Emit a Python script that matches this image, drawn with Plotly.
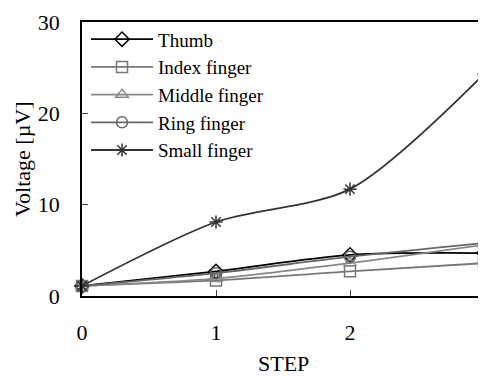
import plotly.graph_objects as go

steps = [0, 1, 2, 3]
thumb = [1.1, 2.7, 4.5, 4.7]
index_f = [1.1, 1.7, 2.7, 3.6]
middle_f = [1.1, 1.9, 3.6, 5.6]
ring_f = [1.1, 2.5, 4.3, 5.8]
small_f = [1.1, 8.1, 11.7, 24.3]

series = [
    ("Thumb", thumb, "#000000", "diamond-open"),
    ("Index finger", index_f, "#777777", "square-open"),
    ("Middle finger", middle_f, "#888888", "triangle-up-open"),
    ("Ring finger", ring_f, "#666666", "circle-open"),
    ("Small finger", small_f, "#333333", "asterisk-open"),
]

FONT = "Liberation Serif"

fig = go.Figure()
for name, vals, col, sym in series:
    fig.add_trace(go.Scatter(
        x=steps, y=vals, name=name, mode="lines+markers",
        line=dict(color=col, width=1.8, shape="spline", smoothing=0.8),
        marker=dict(symbol=sym, size=11, color=col, line=dict(width=1.5, color=col)),
        cliponaxis=False,
    ))

fig.update_layout(
    width=478, height=368,
    margin=dict(l=74, r=2, t=14, b=80, autoexpand=False),
    paper_bgcolor="white", plot_bgcolor="white",
    font=dict(family=FONT, size=22, color="black"),
    showlegend=True,
    legend=dict(x=0.01, y=1.006, xanchor="left", yanchor="top",
                bgcolor="rgba(0,0,0,0)", font=dict(size=19, family=FONT),
                itemwidth=62, tracegroupgap=0),
    xaxis=dict(range=[0, 3], tickvals=steps, ticks="inside", ticklen=6,
               showline=True, linecolor="black", linewidth=1.5, mirror=True,
               showgrid=False, zeroline=False, ticklabelstandoff=16,
               ticklabeloverflow="allow",
               automargin=False, tickfont=dict(size=22, family=FONT)),
    yaxis=dict(range=[0, 30], tickvals=[0, 10, 20, 30], ticks="inside", ticklen=6,
               showline=True, linecolor="black", linewidth=1.5, mirror=True,
               showgrid=False, zeroline=False, ticklabelstandoff=16,
               automargin=False, tickfont=dict(size=22, family=FONT)),
    annotations=[
        dict(text="Voltage [µV]", textangle=-90, xref="paper", yref="paper",
             x=0, y=0.5, xshift=-60, xanchor="center", yanchor="middle",
             showarrow=False, font=dict(size=22, family=FONT)),
        dict(text="STEP", xref="paper", yref="paper", x=0.5, y=0,
             yshift=-67, xanchor="center", yanchor="middle",
             showarrow=False, font=dict(size=22, family=FONT)),
    ],
)

fig.write_html("out.html")
